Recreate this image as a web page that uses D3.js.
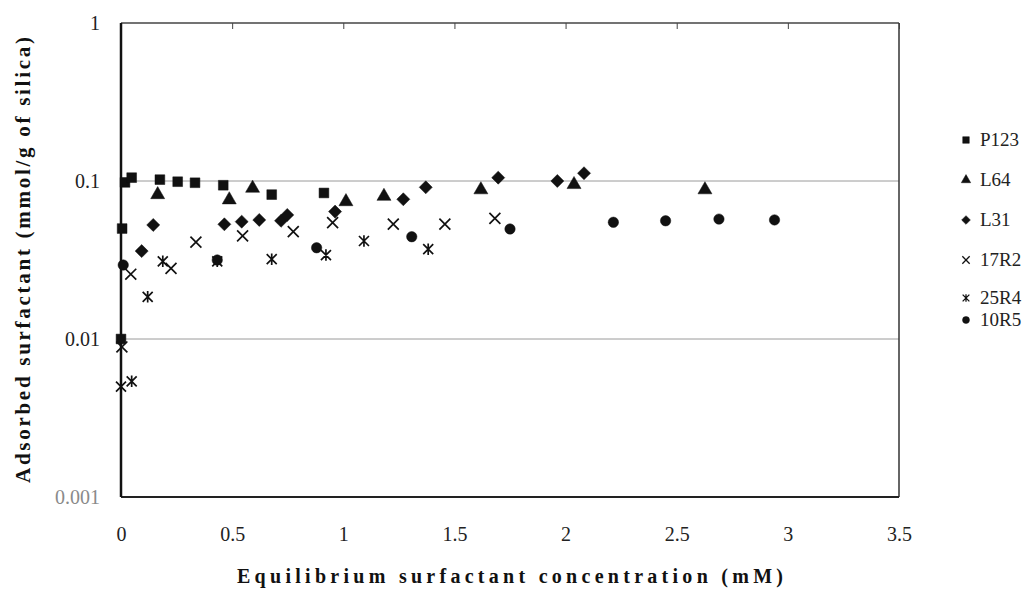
<!DOCTYPE html>
<html>
<head>
<meta charset="utf-8">
<script src="https://cdn.jsdelivr.net/npm/d3@7"></script>
</head>
<body style="margin:0">
<div id="chart"></div>
<script>
// Data
const seriesNames = ['P123', 'L64', 'L31', '17R2', '25R4', '10R5'];

const p123X = [0, 0.005, 0.018, 0.048, 0.175, 0.255, 0.333, 0.46, 0.678, 0.913];
const p123Y = [0.01, 0.05, 0.098, 0.105, 0.102, 0.099, 0.0975, 0.094, 0.082, 0.084];

const l64X = [0.165, 0.487, 0.592, 1.012, 1.183, 1.619, 2.038, 2.627];
const l64Y = [0.082, 0.076, 0.09, 0.074, 0.08, 0.088, 0.095, 0.088];

const l31X = [0.093, 0.145, 0.465, 0.543, 0.622, 0.72, 0.748, 0.963, 1.27, 1.371, 1.697, 1.963, 2.083];
const l31Y = [0.036, 0.0527, 0.0532, 0.0553, 0.0567, 0.056, 0.061, 0.064, 0.0766, 0.0912, 0.105, 0.1, 0.112];

const r17X = [0.004, 0.044, 0.225, 0.337, 0.547, 0.775, 0.952, 1.225, 1.457, 1.682];
const r17Y = [0.0089, 0.0257, 0.028, 0.041, 0.0449, 0.0478, 0.0545, 0.0534, 0.0534, 0.058];

const r25X = [0, 0.048, 0.12, 0.188, 0.433, 0.678, 0.922, 1.093, 1.382];
const r25Y = [0.005, 0.0054, 0.0185, 0.031, 0.031, 0.032, 0.034, 0.0417, 0.037];

const r10X = [0.01, 0.433, 0.88, 1.308, 1.75, 2.215, 2.45, 2.69, 2.94];
const r10Y = [0.0294, 0.0316, 0.0378, 0.0444, 0.0497, 0.0548, 0.056, 0.0574, 0.0567];

const xTicks = [0, 0.5, 1, 1.5, 2, 2.5, 3, 3.5];
const yTicks = [0.001, 0.01, 0.1, 1];
const yTickLabels = ['0.001', '0.01', '0.1', '1'];
const yGrid = [0.01, 0.1];

const xTitle = 'Equilibrium surfactant concentration (mM)';
const yTitle = 'Adsorbed surfactant (mmol/g of silica)';

// Layout
const width = 1035;
const height = 590;
const plot = { l: 121, r: 899, t: 23, b: 497 };
const serifFont = '"Times New Roman", "Liberation Serif", Times, serif';

// make sure the serif face is resolved before drawing
const ctx2d = document.createElement('canvas').getContext('2d');
ctx2d.font = '20px "Liberation Serif"';
ctx2d.measureText('0.1 P123');
ctx2d.font = 'bold 20px "Liberation Serif"';
ctx2d.measureText('Equilibrium');

const svg = d3
  .select('#chart')
  .append('svg')
  .attr('width', width)
  .attr('height', height)
  .attr('font-family', serifFont)
  .style('font-family', serifFont);

const x = d3.scaleLinear().domain([0, 3.5]).range([plot.l, plot.r]);
const y = d3.scaleLog().domain([0.001, 1]).range([plot.b, plot.t]);

// custom symbols
const diamondSym = {
  draw(ctx, size) {
    const r = Math.sqrt(size / 2);
    ctx.moveTo(0, -r);
    ctx.lineTo(r, 0);
    ctx.lineTo(0, r);
    ctx.lineTo(-r, 0);
    ctx.closePath();
  },
};
const crossSym = {
  draw(ctx, size) {
    const r = Math.sqrt(size) / 2;
    ctx.moveTo(-r, -r);
    ctx.lineTo(r, r);
    ctx.moveTo(-r, r);
    ctx.lineTo(r, -r);
  },
};
const starSym = {
  draw(ctx, size) {
    const r = Math.sqrt(size) / 2;
    ctx.moveTo(-r, -r);
    ctx.lineTo(r, r);
    ctx.moveTo(-r, r);
    ctx.lineTo(r, -r);
    ctx.moveTo(0, -r * 1.15);
    ctx.lineTo(0, r * 1.15);
  },
};

const styles = [
  { type: d3.symbolSquare, size: 95, fill: true },
  { type: d3.symbolTriangle, size: 85, fill: true },
  { type: diamondSym, size: 85, fill: true },
  { type: crossSym, size: 120, fill: false },
  { type: starSym, size: 100, fill: false },
  { type: d3.symbolCircle, size: 85, fill: true },
];

const series = [
  [p123X, p123Y],
  [l64X, l64Y],
  [l31X, l31Y],
  [r17X, r17Y],
  [r25X, r25Y],
  [r10X, r10Y],
].map(([xs, ys], i) => ({ name: seriesNames[i], pts: xs.map((v, j) => [v, ys[j]]) }));

// gridlines
svg
  .append('g')
  .selectAll('line')
  .data(yGrid)
  .join('line')
  .attr('x1', plot.l)
  .attr('x2', plot.r)
  .attr('y1', (d) => y(d))
  .attr('y2', (d) => y(d))
  .attr('stroke', '#9a9a9a')
  .attr('stroke-width', 1);

// frame
svg.append('line').attr('x1', plot.l).attr('x2', plot.r).attr('y1', plot.t).attr('y2', plot.t)
  .attr('stroke', '#444').attr('stroke-width', 1.5);
svg.append('line').attr('x1', plot.r).attr('x2', plot.r).attr('y1', plot.t).attr('y2', plot.b)
  .attr('stroke', '#333').attr('stroke-width', 1.5);
svg.append('line').attr('x1', plot.l).attr('x2', plot.r).attr('y1', plot.b).attr('y2', plot.b)
  .attr('stroke', '#222').attr('stroke-width', 2);

// top tick marks
svg
  .append('g')
  .attr('transform', `translate(0,${plot.t})`)
  .call(d3.axisTop(x).tickValues(xTicks).tickSize(-6).tickFormat(''))
  .call((g) => g.select('.domain').remove())
  .selectAll('line')
  .attr('stroke', '#444');

// x axis labels
svg
  .append('g')
  .attr('transform', `translate(0,${plot.b})`)
  .call(d3.axisBottom(x).tickValues(xTicks).tickSize(0).tickPadding(30).tickFormat((d) => d3.format('')(d)))
  .call((g) => g.select('.domain').remove())
  .attr('font-family', serifFont)
  .attr('font-size', 20)
  .selectAll('text')
  .style('font-family', serifFont)
  .attr('fill', '#222');

// y axis labels
svg
  .append('g')
  .attr('transform', `translate(${plot.l},0)`)
  .call(d3.axisLeft(y).tickValues(yTicks).tickSize(0).tickPadding(21).tickFormat((d, i) => yTickLabels[i]))
  .call((g) => g.select('.domain').remove())
  .attr('font-family', serifFont)
  .attr('font-size', 20)
  .selectAll('text')
  .style('font-family', serifFont)
  .attr('fill', (d) => (d === 0.001 ? '#8a8a8a' : '#222'));

// left axis line
svg.append('line').attr('x1', plot.l).attr('x2', plot.l).attr('y1', plot.t).attr('y2', plot.b)
  .attr('stroke', '#111').attr('stroke-width', 2.5);

// points
const symbol = d3.symbol();
series.forEach((s, i) => {
  const st = styles[i];
  svg
    .append('g')
    .selectAll('path')
    .data(s.pts)
    .join('path')
    .attr('transform', (d) => `translate(${x(d[0])},${y(d[1])})`)
    .attr('d', symbol.type(st.type).size(st.size)())
    .attr('fill', st.fill ? '#111' : 'none')
    .attr('stroke', '#111')
    .attr('stroke-width', st.fill ? 0.5 : 1.7);
});

// legend
const legendY = [140, 180, 220, 260, 298, 320];
const legend = svg.append('g').attr('class', 'legend');
seriesNames.forEach((name, i) => {
  const st = styles[i];
  legend
    .append('path')
    .attr('transform', `translate(966,${legendY[i]})`)
    .attr('d', symbol.type(st.type).size(st.size * 0.45)())
    .attr('fill', st.fill ? '#111' : 'none')
    .attr('stroke', '#111')
    .attr('stroke-width', st.fill ? 0.5 : 1.3);
  legend
    .append('text')
    .attr('x', 980)
    .attr('y', legendY[i])
    .attr('dy', '0.33em')
    .style('font-family', serifFont)
    .attr('font-size', 19)
    .attr('fill', '#222')
    .text(name);
});

// axis titles
svg
  .append('text')
  .attr('x', 510)
  .attr('y', 583)
  .attr('text-anchor', 'middle')
  .style('font-family', serifFont)
  .attr('font-size', 20)
  .attr('font-weight', 'bold')
  .attr('fill', '#111')
  .attr('textLength', 546)
  .attr('lengthAdjust', 'spacing')
  .text(xTitle);

svg
  .append('text')
  .attr('transform', 'translate(30,260) rotate(-90)')
  .attr('text-anchor', 'middle')
  .style('font-family', serifFont)
  .attr('font-size', 21)
  .attr('font-weight', 'bold')
  .attr('fill', '#111')
  .attr('textLength', 446)
  .attr('lengthAdjust', 'spacing')
  .text(yTitle);
</script>
</body>
</html>
